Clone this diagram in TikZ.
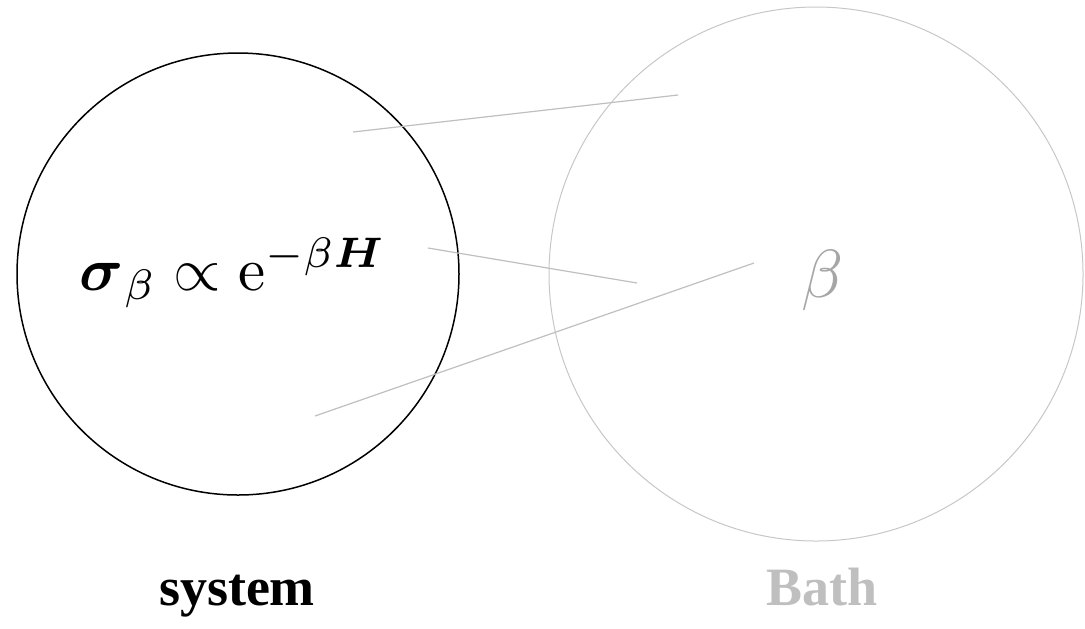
\documentclass[tikz,border=0pt]{standalone}
\usepackage{amsmath,amssymb}
\usepackage{graphicx}
\usepackage{fontspec}
\newfontfamily\labelfont{Liberation Serif}
\begin{document}
\begin{tikzpicture}[x=0.5pt,y=-0.5pt,
  syscirc/.style={draw=black,line width=0.75pt},
  bathcirc/.style={draw=black!22,line width=0.5pt},
  link/.style={draw=black!25,line width=0.6pt},
  lbl/.style={anchor=base,inner sep=0pt},
  caption/.style={lbl,font=\fontsize{27}{32}\selectfont\labelfont\bfseries}]
\useasboundingbox (0,0) rectangle (1085,628);
\node[syscirc,circle,minimum size=221pt,inner sep=0pt] (sys) at (238,274) {};
\node[bathcirc,circle,minimum size=267pt,inner sep=0pt] (bath) at (816,274) {};
\coordinate (a1) at (353,132); \coordinate (b1) at (678,95);
\coordinate (a2) at (428,248); \coordinate (b2) at (637,283);
\coordinate (a3) at (315,416); \coordinate (b3) at (754,263);
\draw[link] (a1) -- (b1);
\draw[link] (a2) -- (b2);
\draw[link] (a3) -- (b3);
\node[lbl] (form) at (233,290) {\scalebox{3.05}{$\boldsymbol{\sigma}_\beta \propto \mathrm{e}^{-\beta\boldsymbol{H}}$}};
\node[lbl,text=black!35] (beta) at (823,297) {\scalebox{3.4}{$\beta$}};
\node[caption] (systxt) at (237,605) {system};
\node[caption,text=black!25] (bathtxt) at (822,605) {Bath};
\end{tikzpicture}
\end{document}
